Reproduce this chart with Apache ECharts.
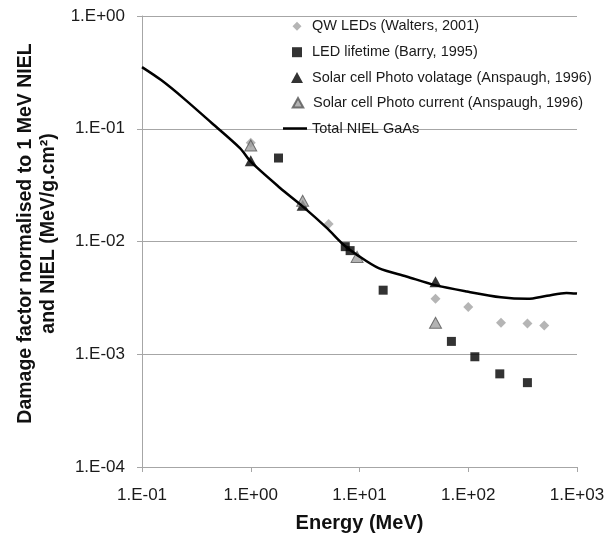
<!DOCTYPE html>
<html>
<head>
<meta charset="utf-8">
<title>Damage factor vs energy</title>
<script src="https://cdn.jsdelivr.net/npm/echarts@6/dist/echarts.min.js"></script>
<style>
  html, body { margin: 0; padding: 0; background: #ffffff; }
  #chart { width: 612px; height: 538px; }
</style>
</head>
<body>
<div id="chart"></div>
<script>
// Total NIEL for GaAs (MeV/g.cm2) versus proton energy (MeV)
const nielEnergy = [0.1, 0.15, 0.24, 0.44, 0.8, 1, 1.85, 3, 5, 7.1, 9.7, 15, 27, 50, 97, 200, 350, 530, 800, 1000];
const nielGaAs   = [0.352, 0.27, 0.187, 0.112, 0.067, 0.051, 0.030, 0.0205, 0.0132, 0.0094, 0.0075, 0.0058, 0.0049, 0.0041, 0.0036, 0.0032, 0.0031, 0.0033, 0.0035, 0.00345];

// QW LEDs (Walters, 2001)
const qwEnergy = [1, 5.2, 50, 100, 200, 350, 500];
const qwDamage = [0.075, 0.0143, 0.0031, 0.00263, 0.0019, 0.00187, 0.0018];

// LED lifetime (Barry, 1995)
const ledEnergy = [1.8, 7.4, 8.2, 16.5, 70, 115, 195, 350];
const ledDamage = [0.055, 0.009, 0.0083, 0.0037, 0.0013, 0.00095, 0.00067, 0.00056];

// Solar cell photo voltage (Anspaugh, 1996)
const vocEnergy = [1, 3, 50];
const vocDamage = [0.052, 0.021, 0.0044];

// Solar cell photo current (Anspaugh, 1996)
const iscEnergy = [1, 3, 9.5, 50];
const iscDamage = [0.071, 0.023, 0.0073, 0.0019];

// Decade tick labels
const xTickLabels = ['1.E-01', '1.E+00', '1.E+01', '1.E+02', '1.E+03'];
const yTickLabels = ['1.E-04', '1.E-03', '1.E-02', '1.E-01', '1.E+00'];

const seriesNames = [
  'QW LEDs (Walters, 2001)',
  'LED lifetime (Barry, 1995)',
  'Solar cell Photo volatage (Anspaugh, 1996)',
  'Solar cell Photo current (Anspaugh, 1996)',
  'Total NIEL GaAs'
];

const pairs = (xs, ys) => xs.map((x, i) => [x, ys[i]]);
const labelFor = (labels, minExp) => v => {
  const e = Math.round(Math.log10(v));
  return labels[e - minExp] || '';
};

const font = 'Liberation Sans, Arial, sans-serif';
const axisGray = '#a6a6a6';

// One legend block per entry so each key keeps its own marker size
const legendIconCenterX = 297;
const legendTextX = 312;
const legendRowY = [25.7, 51.7, 77, 102.3, 128];
const legendKeys = [
  { icon: 'diamond', w: 9, h: 9 },
  { icon: 'rect', w: 10, h: 10 },
  { icon: 'triangle', w: 12, h: 11 },
  { icon: 'triangle', w: 10.5, h: 9.5 },
  { icon: 'rect', w: 24, h: 2.5 }
];
const legendFontSize = 14.5;
const legends = legendKeys.map((k, i) => {
  const left = i === 4 ? legendTextX - 5 - k.w : legendIconCenterX - k.w / 2;
  const pad = Math.max(0, legendTextX - (left + k.w + 5));
  return {
    orient: 'vertical',
    left: left,
    top: legendRowY[i] - 8.5,
    padding: 0,
    itemWidth: k.w,
    itemHeight: k.h,
    textStyle: { fontFamily: font, fontSize: legendFontSize, color: '#1a1a1a', padding: [0, 0, 0, pad], lineHeight: 18 },
    data: [{ name: seriesNames[i], icon: k.icon }]
  };
});

const chart = echarts.init(document.getElementById('chart'), null, { renderer: 'canvas' });

chart.setOption({
  animation: false,
  backgroundColor: '#ffffff',
  grid: { left: 142, right: 35, top: 16, bottom: 70 },
  legend: legends,
  xAxis: {
    type: 'log',
    logBase: 10,
    min: 0.1,
    max: 1000,
    name: 'Energy (MeV)',
    nameLocation: 'middle',
    nameGap: 46,
    nameTextStyle: { fontFamily: font, fontSize: 20, fontWeight: 'bold', color: '#111' },
    axisLine: { lineStyle: { color: axisGray, width: 1 } },
    axisTick: { show: true, length: 5, lineStyle: { color: axisGray } },
    splitLine: { show: false },
    minorTick: { show: false },
    axisLabel: {
      margin: 20,
      fontFamily: font,
      fontSize: 17,
      color: '#1a1a1a',
      formatter: labelFor(xTickLabels, -1)
    }
  },
  yAxis: {
    type: 'log',
    logBase: 10,
    min: 0.0001,
    max: 1,
    name: 'Damage factor normalised to 1 MeV NIEL\nand NIEL (MeV/g.cm²)',
    nameLocation: 'middle',
    nameGap: 82,
    nameRotate: 90,
    nameTextStyle: { fontFamily: font, fontSize: 19.5, fontWeight: 'bold', color: '#111', lineHeight: 23, padding: [0, 0, 0, 16] },
    axisLine: { show: true, lineStyle: { color: axisGray, width: 1 } },
    axisTick: { show: true, length: 5, lineStyle: { color: axisGray } },
    splitLine: { show: true, lineStyle: { color: axisGray, width: 1 } },
    axisLabel: {
      margin: 17,
      fontFamily: font,
      fontSize: 17,
      color: '#1a1a1a',
      formatter: labelFor(yTickLabels, -4)
    }
  },
  series: [
    {
      name: seriesNames[0],
      type: 'scatter',
      symbol: 'diamond',
      symbolSize: 10,
      itemStyle: { color: '#a3a3a3' },
      data: pairs(qwEnergy, qwDamage),
      z: 2
    },
    {
      name: seriesNames[1],
      type: 'scatter',
      symbol: 'rect',
      symbolSize: 9,
      itemStyle: { color: '#000000' },
      data: pairs(ledEnergy, ledDamage),
      z: 3
    },
    {
      name: seriesNames[2],
      type: 'scatter',
      symbol: 'triangle',
      symbolSize: [12, 11],
      itemStyle: { color: '#000000' },
      data: pairs(vocEnergy, vocDamage),
      z: 3
    },
    {
      name: seriesNames[3],
      type: 'scatter',
      symbol: 'triangle',
      symbolSize: [12, 11],
      itemStyle: { color: '#a0a0a0', borderColor: '#555555', borderWidth: 1 },
      data: pairs(iscEnergy, iscDamage),
      z: 4
    },
    {
      name: seriesNames[4],
      type: 'line',
      symbol: 'none',
      smooth: 0.3,
      lineStyle: { color: '#000000', width: 2.5 },
      itemStyle: { color: '#000000' },
      data: pairs(nielEnergy, nielGaAs),
      z: 5
    }
  ]
});
</script>
</body>
</html>
